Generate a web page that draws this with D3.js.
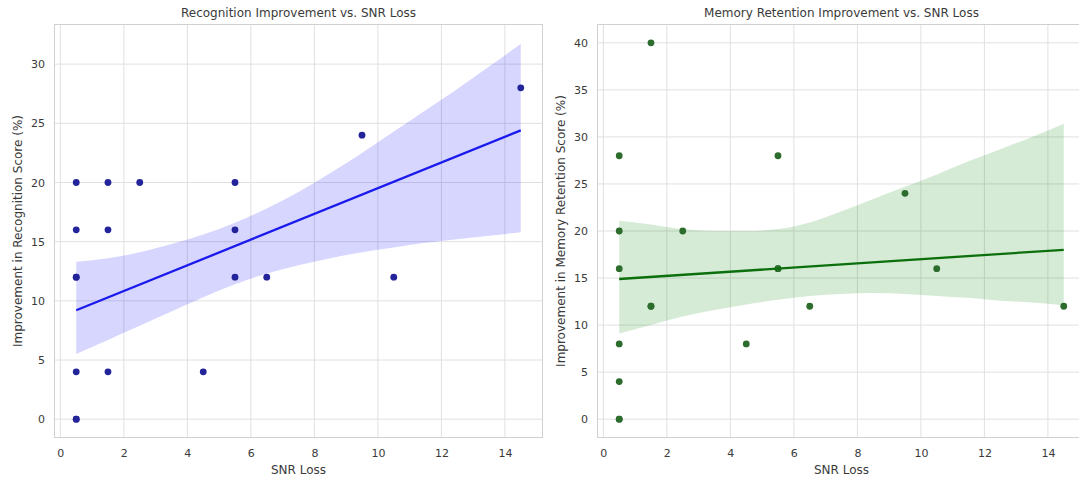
<!DOCTYPE html>
<html>
<head>
<meta charset="utf-8">
<script src="https://cdn.jsdelivr.net/npm/d3@7"></script>
<style>
  html, body { margin: 0; padding: 0; background: #ffffff; }
  svg { display: block; font-family: "DejaVu Sans", sans-serif; }
</style>
</head>
<body>
<svg id="chart" width="1079" height="479"></svg>
<script>
// ---- data ----
const snrLoss = [0.5,0.5,0.5,0.5,0.5,0.5,0.5, 1.5,1.5,1.5, 2.5, 4.5, 5.5,5.5,5.5, 6.5, 9.5, 10.5, 14.5];
const recognitionImprovement = [20,16,12,12,4,0,0, 20,16,4, 20, 4, 20,16,12, 12, 24, 12, 28];
const memoryImprovement      = [28,20,16,8,4,0,0, 40,12,12, 20, 8, 28,16,16, 12, 24, 16, 12];

// fitted regression lines (endpoints)
const fitX = [0.5, 14.5];
const recognitionFit = [9.2, 24.4];
const memoryFit = [14.9, 18.0];

// confidence bands
const bandX = [0.5,1.5,2.5,3.5,4.5,5.5,6.5,7.5,8.5,9.5,10.5,11.5,12.5,13.5,14.5];
const recognitionUpper = [13.3,13.6,14.1,14.8,15.6,16.6,17.8,19.2,20.8,22.5,24.3,26.1,27.9,29.8,31.7];
const recognitionLower = [5.5,6.7,7.9,9.1,10.3,11.4,12.3,13.0,13.6,14.1,14.5,14.9,15.2,15.5,15.8];
const memoryUpper = [21.1,20.7,20.2,20.0,20.0,20.2,20.9,22.1,23.4,24.7,26.0,27.4,28.7,30.0,31.4];
const memoryLower = [9.1,10.0,10.9,11.6,12.2,12.7,13.1,13.3,13.4,13.3,13.1,12.9,12.6,12.4,12.1];

const xTicks = [0,2,4,6,8,10,12,14];
const recognitionYTicks = [0,5,10,15,20,25,30];
const memoryYTicks = [0,5,10,15,20,25,30,35,40];

const panels = [
  {
    title: "Recognition Improvement vs. SNR Loss",
    ylabel: "Improvement in Recognition Score (%)",
    y: recognitionImprovement, fit: recognitionFit,
    upper: recognitionUpper, lower: recognitionLower,
    yTicks: recognitionYTicks, yDomain: [-1.59, 33.39],
    left: 54, right: 543,
    lineColor: "#1a1aee", pointColor: "#23239a", bandColor: "#0000ff"
  },
  {
    title: "Memory Retention Improvement vs. SNR Loss",
    ylabel: "Improvement in Memory Retention Score (%)",
    y: memoryImprovement, fit: memoryFit,
    upper: memoryUpper, lower: memoryLower,
    yTicks: memoryYTicks, yDomain: [-2, 42],
    left: 597, right: 1086,
    lineColor: "#0b700b", pointColor: "#2c6c2c", bandColor: "#008000"
  }
];

const svg = d3.select("#chart");
svg.append("rect").attr("width", 1079).attr("height", 479).attr("fill", "#ffffff");

const plotTop = 24, plotBottom = 438;
const textColor = "#3a3a3a";

panels.forEach((p, i) => {
  const x = d3.scaleLinear().domain([-0.2, 15.2]).range([p.left, p.right]);
  const y = d3.scaleLinear().domain(p.yDomain).range([plotBottom, plotTop]);
  const g = svg.append("g");

  const clipId = "clip" + i;
  svg.append("clipPath").attr("id", clipId)
    .append("rect").attr("x", p.left).attr("y", plotTop)
    .attr("width", p.right - p.left).attr("height", plotBottom - plotTop);

  // grid
  const grid = g.append("g");
  grid.selectAll("line.gx").data(xTicks).join("line")
    .attr("x1", d => x(d)).attr("x2", d => x(d))
    .attr("y1", plotTop).attr("y2", plotBottom)
    .attr("stroke", "#e0e0e0").attr("stroke-width", 1);
  grid.selectAll("line.gy").data(p.yTicks).join("line")
    .attr("x1", p.left).attr("x2", p.right)
    .attr("y1", d => y(d)).attr("y2", d => y(d))
    .attr("stroke", "#e0e0e0").attr("stroke-width", 1);

  // spines
  g.append("rect").attr("x", p.left + 0.5).attr("y", plotTop + 0.5)
    .attr("width", p.right - p.left - 1).attr("height", plotBottom - plotTop - 1)
    .attr("fill", "none").attr("stroke", "#d0d0d0").attr("stroke-width", 1);

  const plot = g.append("g").attr("clip-path", `url(#${clipId})`);

  // confidence band
  const area = d3.area()
    .x((d, j) => x(bandX[j]))
    .y0((d, j) => y(p.lower[j]))
    .y1((d, j) => y(p.upper[j]))
    .curve(d3.curveMonotoneX);
  plot.append("path").datum(bandX).attr("d", area)
    .attr("fill", p.bandColor).attr("fill-opacity", 0.16);

  // points
  plot.selectAll("circle").data(snrLoss.map((v, j) => [v, p.y[j]])).join("circle")
    .attr("cx", d => x(d[0])).attr("cy", d => y(d[1])).attr("r", 3.4)
    .attr("fill", p.pointColor);

  // regression line
  const line = d3.line().x((d, j) => x(fitX[j])).y(d => y(d));
  plot.append("path").datum(p.fit).attr("d", line)
    .attr("fill", "none").attr("stroke", p.lineColor).attr("stroke-width", 2.3);

  // axes
  const xAxis = g.append("g").attr("transform", `translate(0,${plotBottom})`)
    .call(d3.axisBottom(x).tickValues(xTicks).tickSize(0).tickPadding(11).tickFormat(d3.format("d")));
  xAxis.select(".domain").remove();
  xAxis.selectAll("text").attr("fill", textColor).style("font-size", "11px")
    .style("font-family", "DejaVu Sans, sans-serif");

  const yAxis = g.append("g").attr("transform", `translate(${p.left},0)`)
    .call(d3.axisLeft(y).tickValues(p.yTicks).tickSize(0).tickPadding(9).tickFormat(d3.format("d")));
  yAxis.select(".domain").remove();
  yAxis.selectAll("text").attr("fill", textColor).style("font-size", "11px")
    .style("font-family", "DejaVu Sans, sans-serif");

  // titles and labels
  const cx = (p.left + p.right) / 2;
  svg.append("text").attr("x", cx).attr("y", 17).attr("text-anchor", "middle")
    .attr("fill", textColor).style("font-size", "12px").text(p.title);
  svg.append("text").attr("x", cx)
    .attr("y", 474).attr("text-anchor", "middle")
    .attr("fill", textColor).style("font-size", "12px").text("SNR Loss");
  svg.append("text")
    .attr("transform", `translate(${p.left - 36},${(plotTop + plotBottom) / 2}) rotate(-90)`)
    .attr("text-anchor", "middle").attr("dy", "0.35em")
    .attr("fill", textColor).style("font-size", "12px").text(p.ylabel);
});
</script>
</body>
</html>
